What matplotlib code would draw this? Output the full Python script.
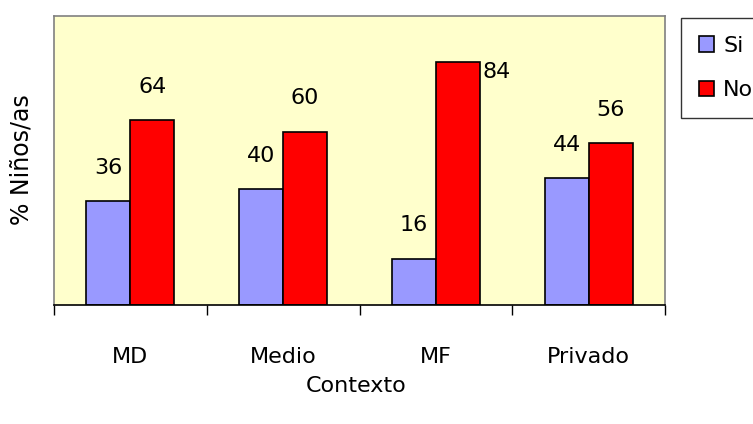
import matplotlib
matplotlib.use('Agg')
import matplotlib.pyplot as plt
import numpy as np

categories = ['MD', 'Medio', 'MF', 'Privado']
si_values = [36, 40, 16, 44]
no_values = [64, 60, 84, 56]
series_names = ['Si', 'No']

W, H = 753, 424
fig = plt.figure(figsize=(W / 100, H / 100), dpi=100)
ax = fig.add_axes([54 / W, (H - 305) / H, (665 - 54) / W, (305 - 16) / H])
ax.set_facecolor('#FFFFCC')

x = np.arange(len(categories))
w = 0.288
b_si = ax.bar(x - w / 2, si_values, w, color='#9999FF', edgecolor='black', linewidth=1.2, label=series_names[0])
b_no = ax.bar(x + w / 2, no_values, w, color='#FF0000', edgecolor='black', linewidth=1.2, label=series_names[1])

ax.set_xlim(-0.5, len(categories) - 0.5)
ax.set_ylim(0, 100)
ax.set_yticks([])

# value labels above bars (the tallest one goes to the right, like excel did)
fs = 16
for xi, v in zip(x - w / 2, si_values):
    ax.annotate(str(v), (xi, v), xytext=(0, 24), textcoords='offset points',
                ha='center', va='center', fontsize=fs)
top = max(no_values)
for xi, v in zip(x + w / 2, no_values):
    if v == top:
        ax.annotate(str(v), (xi + w / 2, v), xytext=(2, -7), textcoords='offset points',
                    ha='left', va='center', fontsize=fs)
    else:
        ax.annotate(str(v), (xi, v), xytext=(0, 24), textcoords='offset points',
                    ha='center', va='center', fontsize=fs)

ax.set_xticks(x)
ax.set_xticklabels(categories, fontsize=fs)
ax.tick_params(axis='x', which='major', length=0, pad=30)
ax.set_xticks(np.arange(-0.5, len(categories), 1.0), minor=True)
ax.tick_params(axis='x', which='minor', length=7, width=1, color='black', direction='out')

for s in ['left', 'top', 'right']:
    ax.spines[s].set_color('#808080')
    ax.spines[s].set_linewidth(1.2)
ax.spines['bottom'].set_color('black')
ax.spines['bottom'].set_linewidth(1.2)

fig.text(356 / W, 1 - 386 / H, 'Contexto', ha='center', va='center', fontsize=fs)
fig.text(22 / W, 1 - 160 / H, '% Niños/as', ha='center', va='center', rotation=90, fontsize=17)

leg = fig.legend(handles=[b_si, b_no], loc='upper left', bbox_to_anchor=(681 / W, 1 - 18 / H),
                 fontsize=fs, frameon=True, fancybox=False, edgecolor='black',
                 handlelength=0.7, handleheight=0.7, handletextpad=0.4,
                 borderpad=0.8, labelspacing=1.1, borderaxespad=0)
leg.get_frame().set_linewidth(1)

fig.savefig('out.png', dpi=100)
